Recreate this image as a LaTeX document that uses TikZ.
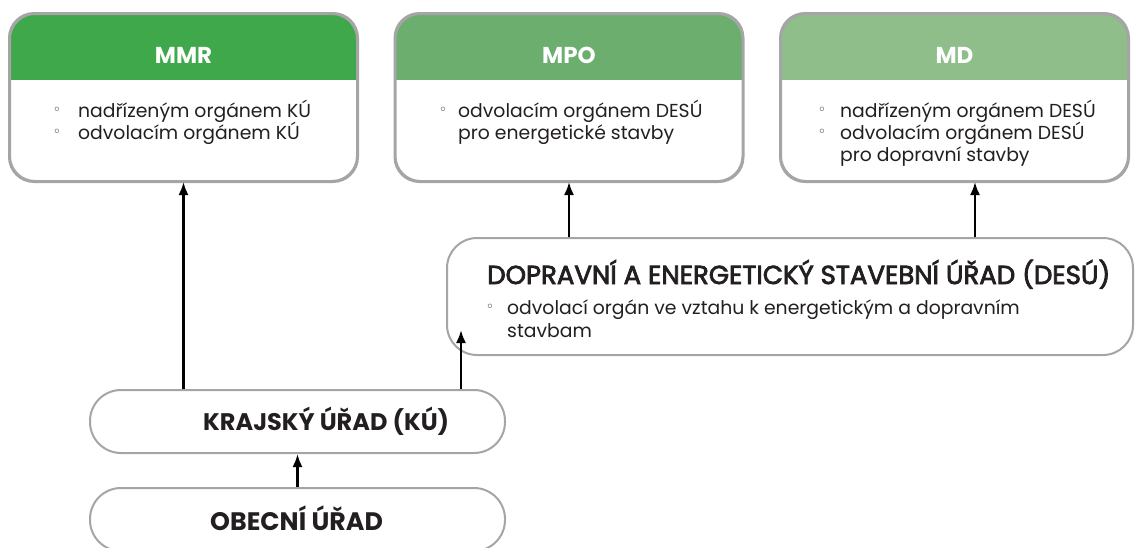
\documentclass[tikz,border=0pt]{standalone}
\usepackage{fontspec}
\setmainfont{Poppins}
\newfontfamily\semib[FakeBold=3]{Poppins}
\newfontfamily\symfont{DejaVu Sans}
\usetikzlibrary{arrows.meta}
\definecolor{cmmr}{RGB}{63,168,74}
\definecolor{cmpo}{RGB}{107,174,110}
\definecolor{cmd}{RGB}{143,190,139}
\definecolor{cborder}{RGB}{165,165,165}
\definecolor{ctext}{RGB}{35,31,32}
\begin{document}
\begin{tikzpicture}[x=1pt,y=-1pt,
  box/.style={draw=cborder, line width=2pt, fill=white, inner sep=0pt},
  minbox/.style={box, rounded corners=25pt, minimum width=347pt, minimum height=167pt,
    path picture={\fill[#1, sharp corners] (path picture bounding box.north west) rectangle ([yshift=-66pt]path picture bounding box.north east);}},
  head/.style={text=white, font=\fontsize{23}{26}\selectfont\bfseries, inner sep=0pt},
  txt/.style={text=ctext, font=\fontsize{18.8}{22}\selectfont, anchor=base west, inner sep=0pt},
  bul/.style={text=ctext, font=\symfont\fontsize{14}{16}\selectfont, inner sep=0pt},
  big/.style={text=ctext, font=\fontsize{#1}{28}\selectfont\bfseries, anchor=base west, inner sep=0pt},
  big/.default=24.5,
  title/.style={text=ctext, font=\semib\fontsize{26}{28}\selectfont, anchor=base west, inner sep=0pt},
  arr/.style={line width=2.2pt, draw=black, -{Latex[length=13pt,width=10pt]}}
]
\useasboundingbox (0,0) rectangle (1135,547);

% ministry boxes
\node[minbox=cmmr] (mmr) at (183.5,97.5) {};
\node[minbox=cmpo] (mpo) at (569,97.5) {};
\node[minbox=cmd] (md) at (954.5,97.5) {};
\draw[cborder, line width=2pt, rounded corners=25pt] (mmr.south west) rectangle (mmr.north east);
\draw[cborder, line width=2pt, rounded corners=25pt] (mpo.south west) rectangle (mpo.north east);
\draw[cborder, line width=2pt, rounded corners=25pt] (md.south west) rectangle (md.north east);

\node[head] (mmrh) at (183.5,55) {MMR};
\node[head] (mpoh) at (569,55) {MPO};
\node[head] (mdh) at (954.5,55) {MD};

\node[bul] (mmrb1) at (57,111) {◦};
\node[bul] (mmrb2) at (57,133) {◦};
\node[txt] (mmrt1) at (78,117) {nadřízeným orgánem KÚ};
\node[txt] (mmrt2) at (78,139) {odvolacím orgánem KÚ};

\node[bul] (mpob1) at (443,111) {◦};
\node[txt] (mpot1) at (458,117) {odvolacím orgánem DESÚ};
\node[txt] (mpot2) at (458,139) {pro energetické stavby};

\node[bul] (mdb1) at (822,111) {◦};
\node[bul] (mdb2) at (822,133) {◦};
\node[txt] (mdt1) at (840,117) {nadřízeným orgánem DESÚ};
\node[txt] (mdt2) at (840,139) {odvolacím orgánem DESÚ};
\node[txt] (mdt3) at (840,161) {pro dopravní stavby};

% DESU box
\node[box, rounded corners=30pt, minimum width=686pt, minimum height=117pt] (desu) at (790,296.5) {};
\node[title] (desut) at (487,284) {DOPRAVNÍ A ENERGETICKÝ STAVEBNÍ ÚŘAD (DESÚ)};
\node[bul] (desub) at (490,308) {◦};
\node[txt] (desut1) at (507,314) {odvolací orgán ve vztahu k energetickým a dopravním};
\node[txt] (desut2) at (507,337) {stavbam};

% KU and obecni
\node[box, rounded corners=31pt, minimum width=415pt, minimum height=63pt] (ku) at (297.5,421.5) {};
\node[big=24] (kut) at (203,430) {KRAJSKÝ ÚŘAD (KÚ)};
\node[box, rounded corners=31pt, minimum width=415pt, minimum height=63pt] (ob) at (297.5,519.5) {};
\node[big=25.3] (obt) at (210,530) {OBECNÍ ÚŘAD};

% arrows
\coordinate (kd) at (461,330);
\coordinate (mdx) at (975,0);
\draw[arr] (ku.north -| mmr.south) -- (mmr.south);
\draw[arr] (ku.north -| kd) -- (kd);
\draw[arr] (desu.north -| mpo.south) -- (mpo.south);
\draw[arr] (desu.north -| mdx) -- (md.south -| mdx);
\draw[arr] (ob.north) -- (ku.south);
\end{tikzpicture}
\end{document}
